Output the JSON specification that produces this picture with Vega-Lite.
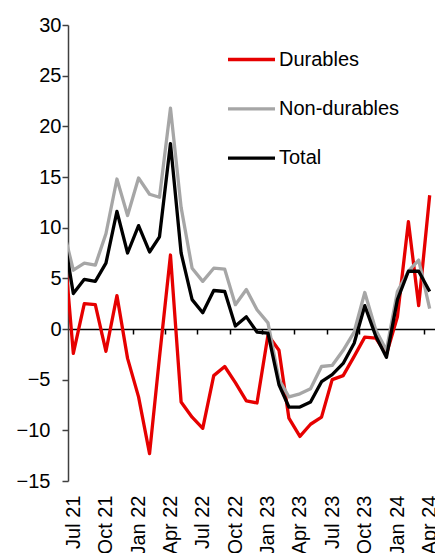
{
  "$schema": "https://vega.github.io/schema/vega-lite/v6.json",
  "width": 367,
  "height": 456,
  "autosize": {"type": "none"},
  "padding": {"left": 68, "top": 25, "right": 0, "bottom": 72},
  "background": "white",
  "config": {"view": {"stroke": null}, "font": "Liberation Sans", "axis": {"grid": false}},
  "data": {"values": [
    {"date": "2021-06-01", "series": "Durables", "value": 10.0},
    {"date": "2021-07-01", "series": "Durables", "value": -2.4},
    {"date": "2021-08-01", "series": "Durables", "value": 2.5},
    {"date": "2021-09-01", "series": "Durables", "value": 2.4},
    {"date": "2021-10-01", "series": "Durables", "value": -2.2},
    {"date": "2021-11-01", "series": "Durables", "value": 3.3},
    {"date": "2021-12-01", "series": "Durables", "value": -2.9},
    {"date": "2022-01-01", "series": "Durables", "value": -6.7},
    {"date": "2022-02-01", "series": "Durables", "value": -12.3},
    {"date": "2022-03-01", "series": "Durables", "value": -2.8},
    {"date": "2022-04-01", "series": "Durables", "value": 7.3},
    {"date": "2022-05-01", "series": "Durables", "value": -7.2},
    {"date": "2022-06-01", "series": "Durables", "value": -8.7},
    {"date": "2022-07-01", "series": "Durables", "value": -9.8},
    {"date": "2022-08-01", "series": "Durables", "value": -4.6},
    {"date": "2022-09-01", "series": "Durables", "value": -3.7},
    {"date": "2022-10-01", "series": "Durables", "value": -5.3},
    {"date": "2022-11-01", "series": "Durables", "value": -7.1},
    {"date": "2022-12-01", "series": "Durables", "value": -7.3},
    {"date": "2023-01-01", "series": "Durables", "value": -0.6},
    {"date": "2023-02-01", "series": "Durables", "value": -2.1},
    {"date": "2023-03-01", "series": "Durables", "value": -8.8},
    {"date": "2023-04-01", "series": "Durables", "value": -10.6},
    {"date": "2023-05-01", "series": "Durables", "value": -9.4},
    {"date": "2023-06-01", "series": "Durables", "value": -8.7},
    {"date": "2023-07-01", "series": "Durables", "value": -5.0},
    {"date": "2023-08-01", "series": "Durables", "value": -4.6},
    {"date": "2023-09-01", "series": "Durables", "value": -2.7},
    {"date": "2023-10-01", "series": "Durables", "value": -0.8},
    {"date": "2023-11-01", "series": "Durables", "value": -0.9},
    {"date": "2023-12-01", "series": "Durables", "value": -2.5},
    {"date": "2024-01-01", "series": "Durables", "value": 1.2},
    {"date": "2024-02-01", "series": "Durables", "value": 10.6},
    {"date": "2024-03-01", "series": "Durables", "value": 2.3},
    {"date": "2024-04-01", "series": "Durables", "value": 13.2},
    {"date": "2021-06-01", "series": "Non-durables", "value": 10.1},
    {"date": "2021-07-01", "series": "Non-durables", "value": 5.8},
    {"date": "2021-08-01", "series": "Non-durables", "value": 6.5},
    {"date": "2021-09-01", "series": "Non-durables", "value": 6.3},
    {"date": "2021-10-01", "series": "Non-durables", "value": 9.4},
    {"date": "2021-11-01", "series": "Non-durables", "value": 14.8},
    {"date": "2021-12-01", "series": "Non-durables", "value": 11.2},
    {"date": "2022-01-01", "series": "Non-durables", "value": 14.9},
    {"date": "2022-02-01", "series": "Non-durables", "value": 13.3},
    {"date": "2022-03-01", "series": "Non-durables", "value": 13.0},
    {"date": "2022-04-01", "series": "Non-durables", "value": 21.8},
    {"date": "2022-05-01", "series": "Non-durables", "value": 12.0},
    {"date": "2022-06-01", "series": "Non-durables", "value": 6.0},
    {"date": "2022-07-01", "series": "Non-durables", "value": 4.7},
    {"date": "2022-08-01", "series": "Non-durables", "value": 6.0},
    {"date": "2022-09-01", "series": "Non-durables", "value": 5.9},
    {"date": "2022-10-01", "series": "Non-durables", "value": 2.4},
    {"date": "2022-11-01", "series": "Non-durables", "value": 3.9},
    {"date": "2022-12-01", "series": "Non-durables", "value": 1.9},
    {"date": "2023-01-01", "series": "Non-durables", "value": 0.6},
    {"date": "2023-02-01", "series": "Non-durables", "value": -5.0},
    {"date": "2023-03-01", "series": "Non-durables", "value": -6.7},
    {"date": "2023-04-01", "series": "Non-durables", "value": -6.4},
    {"date": "2023-05-01", "series": "Non-durables", "value": -5.9},
    {"date": "2023-06-01", "series": "Non-durables", "value": -3.7},
    {"date": "2023-07-01", "series": "Non-durables", "value": -3.6},
    {"date": "2023-08-01", "series": "Non-durables", "value": -2.1},
    {"date": "2023-09-01", "series": "Non-durables", "value": -0.3},
    {"date": "2023-10-01", "series": "Non-durables", "value": 3.6},
    {"date": "2023-11-01", "series": "Non-durables", "value": -0.1},
    {"date": "2023-12-01", "series": "Non-durables", "value": -2.1},
    {"date": "2024-01-01", "series": "Non-durables", "value": 3.7},
    {"date": "2024-02-01", "series": "Non-durables", "value": 5.7},
    {"date": "2024-03-01", "series": "Non-durables", "value": 6.8},
    {"date": "2024-04-01", "series": "Non-durables", "value": 2.0},
    {"date": "2021-06-01", "series": "Total", "value": 9.9},
    {"date": "2021-07-01", "series": "Total", "value": 3.5},
    {"date": "2021-08-01", "series": "Total", "value": 4.9},
    {"date": "2021-09-01", "series": "Total", "value": 4.7},
    {"date": "2021-10-01", "series": "Total", "value": 6.5},
    {"date": "2021-11-01", "series": "Total", "value": 11.6},
    {"date": "2021-12-01", "series": "Total", "value": 7.5},
    {"date": "2022-01-01", "series": "Total", "value": 10.2},
    {"date": "2022-02-01", "series": "Total", "value": 7.6},
    {"date": "2022-03-01", "series": "Total", "value": 9.1},
    {"date": "2022-04-01", "series": "Total", "value": 18.3},
    {"date": "2022-05-01", "series": "Total", "value": 7.5},
    {"date": "2022-06-01", "series": "Total", "value": 2.9},
    {"date": "2022-07-01", "series": "Total", "value": 1.6},
    {"date": "2022-08-01", "series": "Total", "value": 3.8},
    {"date": "2022-09-01", "series": "Total", "value": 3.7},
    {"date": "2022-10-01", "series": "Total", "value": 0.3},
    {"date": "2022-11-01", "series": "Total", "value": 1.2},
    {"date": "2022-12-01", "series": "Total", "value": -0.3},
    {"date": "2023-01-01", "series": "Total", "value": -0.4},
    {"date": "2023-02-01", "series": "Total", "value": -5.5},
    {"date": "2023-03-01", "series": "Total", "value": -7.7},
    {"date": "2023-04-01", "series": "Total", "value": -7.7},
    {"date": "2023-05-01", "series": "Total", "value": -7.2},
    {"date": "2023-06-01", "series": "Total", "value": -5.2},
    {"date": "2023-07-01", "series": "Total", "value": -4.5},
    {"date": "2023-08-01", "series": "Total", "value": -3.4},
    {"date": "2023-09-01", "series": "Total", "value": -1.4},
    {"date": "2023-10-01", "series": "Total", "value": 2.3},
    {"date": "2023-11-01", "series": "Total", "value": -0.7},
    {"date": "2023-12-01", "series": "Total", "value": -2.8},
    {"date": "2024-01-01", "series": "Total", "value": 2.9},
    {"date": "2024-02-01", "series": "Total", "value": 5.7},
    {"date": "2024-03-01", "series": "Total", "value": 5.7},
    {"date": "2024-04-01", "series": "Total", "value": 3.7}
  ]},
  "layer": [
    {
      "mark": {"type": "line", "strokeWidth": 3.3, "clip": true, "strokeJoin": "round"},
      "encoding": {
        "x": {
          "field": "date", "type": "temporal",
          "scale": {"type": "utc", "domain": [{"year": 2021, "month": 6, "date": 16, "utc": true}, {"year": 2024, "month": 4, "date": 16, "utc": true}]},
          "axis": {
            "orient": "bottom", "offset": -152, "title": null, "labels": false, "grid": false,
            "domain": true, "domainColor": "#000000", "domainWidth": 1.5,
            "ticks": true, "tickColor": "#000000", "tickSize": 5, "tickWidth": 1.5,
            "values": [
              {"year": 2021, "month": 9, "date": 16, "utc": true},
              {"year": 2021, "month": 12, "date": 16, "utc": true},
              {"year": 2022, "month": 3, "date": 16, "utc": true},
              {"year": 2022, "month": 6, "date": 16, "utc": true},
              {"year": 2022, "month": 9, "date": 16, "utc": true},
              {"year": 2022, "month": 12, "date": 16, "utc": true},
              {"year": 2023, "month": 3, "date": 16, "utc": true},
              {"year": 2023, "month": 6, "date": 16, "utc": true},
              {"year": 2023, "month": 9, "date": 16, "utc": true},
              {"year": 2023, "month": 12, "date": 16, "utc": true},
              {"year": 2024, "month": 3, "date": 16, "utc": true}
            ]
          }
        },
        "y": {
          "field": "value", "type": "quantitative",
          "scale": {"domain": [-15, 30], "nice": false, "zero": false},
          "axis": {
            "title": null, "grid": false, "values": [-15, -10, -5, 0, 5, 10, 15, 20, 25, 30],
            "domainColor": "#404040", "domainWidth": 1.5, "tickColor": "#404040", "tickWidth": 1.5, "tickSize": 6,
            "labelFontSize": 20, "labelColor": "#000000", "labelFont": "Liberation Sans",
            "labelPadding": {"condition": {"test": "datum.value < 0", "value": 12}, "value": 1}
          }
        },
        "color": {
          "field": "series", "type": "nominal",
          "scale": {"domain": ["Durables", "Non-durables", "Total"], "range": ["#e60000", "#a6a6a6", "#000000"]},
          "legend": {
            "orient": "none", "legendX": 158, "legendY": 9, "title": null, "padding": 0,
            "symbolType": "stroke", "symbolSize": 2209, "symbolStrokeWidth": 3.3,
            "labelFontSize": 20, "labelColor": "#000000", "labelOffset": 2, "rowPadding": 13.3, "labelLimit": 0,
            "labelFont": "Liberation Sans"
          }
        }
      }
    },
    {
      "mark": {"type": "rule", "strokeOpacity": 0},
      "encoding": {
        "x": {
          "field": "date", "type": "temporal",
          "scale": {"type": "utc", "domain": [{"year": 2021, "month": 6, "date": 16, "utc": true}, {"year": 2024, "month": 4, "date": 16, "utc": true}]},
          "axis": {
            "orient": "bottom", "title": null, "domain": false, "ticks": false, "tickSize": 0, "grid": false,
            "labelAngle": -90, "labelAlign": "right", "labelBaseline": "middle", "labelPadding": 14,
            "labelFontSize": 20, "labelColor": "#000000", "labelFont": "Liberation Sans",
            "labelOverlap": false, "labelFlush": false, "labelBound": false,
            "labelExpr": "utcFormat(datum.value, '%b %y')",
            "values": [
              {"year": 2021, "month": 7, "date": 1, "utc": true},
              {"year": 2021, "month": 10, "date": 1, "utc": true},
              {"year": 2022, "month": 1, "date": 1, "utc": true},
              {"year": 2022, "month": 4, "date": 1, "utc": true},
              {"year": 2022, "month": 7, "date": 1, "utc": true},
              {"year": 2022, "month": 10, "date": 1, "utc": true},
              {"year": 2023, "month": 1, "date": 1, "utc": true},
              {"year": 2023, "month": 4, "date": 1, "utc": true},
              {"year": 2023, "month": 7, "date": 1, "utc": true},
              {"year": 2023, "month": 10, "date": 1, "utc": true},
              {"year": 2024, "month": 1, "date": 1, "utc": true},
              {"year": 2024, "month": 4, "date": 1, "utc": true}
            ]
          }
        }
      }
    }
  ],
  "resolve": {"axis": {"x": "independent"}}
}
